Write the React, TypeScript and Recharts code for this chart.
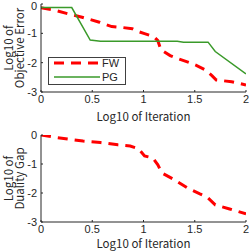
import React from "react";
import { LineChart, Line, XAxis, YAxis, Legend } from "recharts";

// log10 of iteration vs log10 of objective error / duality gap
const fwIter = [0, 0.14, 0.26, 0.4, 0.57, 0.69, 0.79, 0.89, 0.95, 1.01, 1.1, 1.14, 1.17, 1.26, 1.34, 1.45, 1.52, 1.6, 1.67, 1.71, 1.86, 2.0];
const fwObjErr = [-0.13, -0.22, -0.33, -0.45, -0.62, -0.77, -0.8, -0.84, -0.94, -1.01, -1.11, -1.25, -1.56, -1.76, -1.87, -2.0, -2.1, -2.24, -2.45, -2.59, -2.65, -2.76];

const pgIter = [0, 0.3, 0.48, 0.58, 1.33, 1.39, 1.63, 1.7, 2.0];
const pgObjErr = [-0.12, -0.12, -1.23, -1.27, -1.27, -1.3, -1.3, -1.62, -2.38];

const gapIter = [0, 0.16, 0.26, 0.41, 0.58, 0.75, 0.87, 0.95, 1.01, 1.09, 1.14, 1.18, 1.29, 1.43, 1.55, 1.62, 1.7, 1.84, 2.0];
const gapVal = [0, -0.09, -0.14, -0.21, -0.26, -0.34, -0.38, -0.47, -0.72, -0.79, -1.03, -1.31, -1.52, -1.83, -2.03, -2.14, -2.41, -2.55, -2.72];

const xTicks = [0, 0.5, 1, 1.5, 2];
const yTicks = [-3, -2, -1, 0];

const toRows = (xs: number[], ys: number[]) => xs.map((x, i) => ({ x, y: ys[i] }));
const fwData = toRows(fwIter, fwObjErr);
const pgData = toRows(pgIter, pgObjErr);
const gapData = toRows(gapIter, gapVal);

const RED = "#ff0000";
const GREEN = "#3a9a2a";
const AXIS = "#262626";
const TICK_FONT = "'Liberation Sans', Arial, sans-serif";
const TITLE_FONT = "'Noto Sans CJK JP', sans-serif";
const DASH = "10 7";

const tickStyle = { fontSize: 11, fill: AXIS, fontFamily: TICK_FONT };

const YTitle = ({ viewBox, lines }: any) => {
  const cy = viewBox.y + viewBox.height / 2;
  const xs = [8, 19];
  return (
    <g>
      {lines.map((t: string, i: number) => (
        <text
          key={t}
          x={viewBox.x + xs[i]}
          y={cy}
          transform={`rotate(-90 ${viewBox.x + xs[i]} ${cy})`}
          textAnchor="middle"
          dominantBaseline="central"
          fontSize={11.5}
          fontFamily={TITLE_FONT}
          fill={AXIS}>
          {t}
        </text>
      ))}
    </g>
  );
};

const XTitle = ({ viewBox, dy }: any) => (
  <text
    x={viewBox.x + viewBox.width / 2}
    y={viewBox.y + dy}
    textAnchor="middle"
    dominantBaseline="central"
    fontSize={11.5}
    fontFamily={TITLE_FONT}
    fill={AXIS}>
    Log10 of Iteration
  </text>
);

const LegendBox = () => (
  <svg width={78} height={28} style={{ display: "block" }}>
    <rect x={0.5} y={0.5} width={77} height={27} fill="#fff" stroke="#404040" strokeWidth={1} />
    <line x1={6} y1={6} x2={52} y2={6} stroke={RED} strokeWidth={3} strokeDasharray={DASH} />
    <text x={54} y={6} dominantBaseline="central" fontSize={11} fontFamily={TICK_FONT} fill={AXIS}>
      FW
    </text>
    <line x1={6} y1={20} x2={52} y2={20} stroke={GREEN} strokeWidth={1.5} />
    <text x={54} y={20} dominantBaseline="central" fontSize={11} fontFamily={TICK_FONT} fill={AXIS}>
      PG
    </text>
  </svg>
);

export default function App() {
  return (
    <div style={{ position: "absolute", left: 0, top: 0, width: 249, height: 251, background: "#fff" }}>
      <LineChart width={249} height={125} margin={{ top: 4, right: 3, left: 0, bottom: 3 }}>
        <XAxis
          type="number"
          dataKey="x"
          domain={[0, 2]}
          ticks={xTicks}
          tick={tickStyle}
          tickSize={-2}
          tickMargin={5}
          stroke={AXIS}
          height={30}
          allowDataOverflow
          label={{ content: (p: any) => <XTitle {...p} dy={24} /> }}
        />
        <YAxis
          type="number"
          dataKey="y"
          domain={[-3, 0]}
          ticks={yTicks}
          tick={tickStyle}
          tickSize={-2}
          tickMargin={6}
          stroke={AXIS}
          width={41}
          allowDataOverflow
          label={{ content: (p: any) => <YTitle {...p} lines={["Log10 of", "Objective Error"]} /> }}
        />
        <Line data={fwData} dataKey="y" type="linear" stroke={RED} strokeWidth={3} strokeDasharray={DASH} dot={false} isAnimationActive={false} />
        <Line data={pgData} dataKey="y" type="linear" stroke={GREEN} strokeWidth={1.5} dot={false} isAnimationActive={false} />
        <Legend
          layout="horizontal"
          verticalAlign="middle"
          align="center"
          content={() => <LegendBox />}
          wrapperStyle={{ position: "absolute", left: 48, top: 57, width: 78, height: 28 }}
        />
      </LineChart>
      <LineChart width={249} height={126} margin={{ top: 10, right: 3, left: 0, bottom: 3 }}>
        <XAxis
          type="number"
          dataKey="x"
          domain={[0, 2]}
          ticks={xTicks}
          tick={tickStyle}
          tickSize={-2}
          tickMargin={5}
          stroke={AXIS}
          height={26}
          allowDataOverflow
          label={{ content: (p: any) => <XTitle {...p} dy={21} /> }}
        />
        <YAxis
          type="number"
          dataKey="y"
          domain={[-3, 0]}
          ticks={yTicks}
          tick={tickStyle}
          tickSize={-2}
          tickMargin={6}
          stroke={AXIS}
          width={41}
          allowDataOverflow
          label={{ content: (p: any) => <YTitle {...p} lines={["Log10 of", "Duality Gap"]} /> }}
        />
        <Line data={gapData} dataKey="y" type="linear" stroke={RED} strokeWidth={3} strokeDasharray={DASH} dot={false} isAnimationActive={false} />
      </LineChart>
    </div>
  );
}
